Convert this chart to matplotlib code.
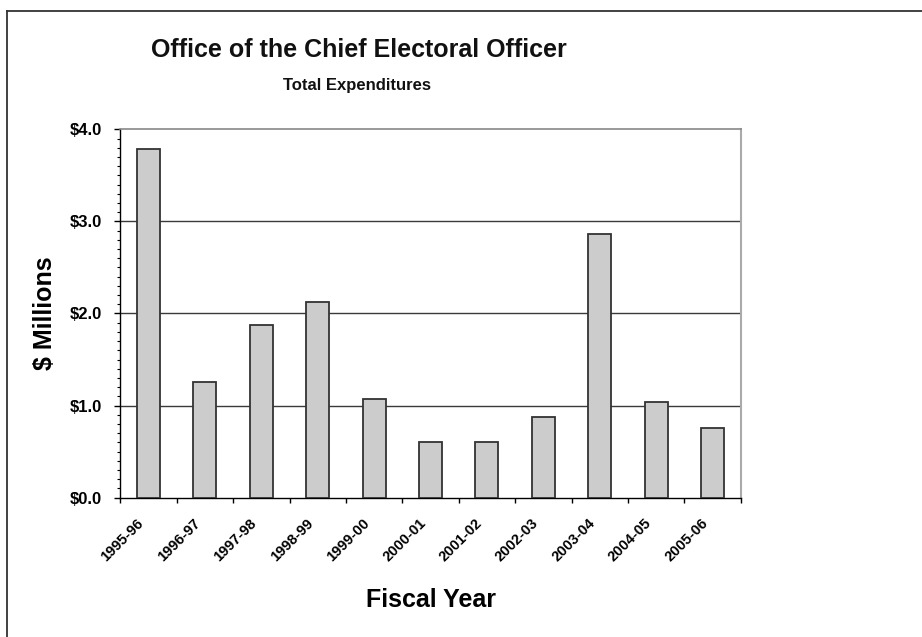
import numpy as np
import matplotlib
matplotlib.use("Agg")
import matplotlib.pyplot as plt
import matplotlib.transforms as mtransforms
from matplotlib.lines import Line2D
from matplotlib.ticker import MultipleLocator, FixedLocator

plt.rcParams['font.family'] = ['Liberation Sans', 'DejaVu Sans']
plt.rcParams['font.weight'] = 'bold'

# Data ($ millions)
fiscal_years = ['1995-96', '1996-97', '1997-98', '1998-99', '1999-00', '2000-01',
                '2001-02', '2002-03', '2003-04', '2004-05', '2005-06']
expenditures = [3.79, 1.26, 1.88, 2.13, 1.07, 0.60, 0.60, 0.88, 2.86, 1.04, 0.76]
y_ticks = [0.0, 1.0, 2.0, 3.0, 4.0]
y_tick_labels = ['$0.0', '$1.0', '$2.0', '$3.0', '$4.0']

fig = plt.figure(figsize=(9.22, 6.37), dpi=100)
ax = fig.add_axes([0.1305, 0.2187, 0.6729, 0.5783])

x = np.arange(len(fiscal_years))
ax.bar(x, expenditures, width=0.41, color='#cccccc', edgecolor='#333333',
       linewidth=1.3, zorder=3)

ax.set_xlim(-0.5, len(fiscal_years) - 0.5)
ax.set_ylim(0, 4.0)

# gridlines
for v in y_ticks[1:-1]:
    ax.axhline(v, color='#3a3a3a', linewidth=1.0, zorder=1)

# spines
ax.spines['left'].set_color('black')
ax.spines['bottom'].set_color('black')
ax.spines['left'].set_linewidth(1.0)
ax.spines['bottom'].set_linewidth(1.0)
ax.spines['top'].set_color('#888888')
ax.spines['right'].set_color('#aaaaaa')
ax.spines['top'].set_linewidth(1.2)
ax.spines['right'].set_linewidth(1.5)

# y axis
ax.set_yticks(y_ticks)
ax.set_yticklabels(y_tick_labels, fontsize=12, fontweight='bold')
ax.yaxis.set_minor_locator(MultipleLocator(0.1))
ax.tick_params(axis='y', which='major', direction='out', length=4, width=1, pad=9)
ax.tick_params(axis='y', which='minor', direction='out', length=2.2, width=0.8)

# x axis: labels at centres, ticks at category boundaries
ax.set_xticks(x)
ax.xaxis.set_minor_locator(FixedLocator(np.arange(-0.5, len(fiscal_years), 1.0)))
ax.tick_params(axis='x', which='major', length=0, pad=17)
ax.tick_params(axis='x', which='minor', direction='out', length=3.5, width=1)
ax.set_xticklabels(fiscal_years, fontsize=10.5, fontweight='bold',
                   rotation=45, ha='right', va='center', rotation_mode='anchor')
# nudge labels left so their ends sit just left of each bar centre
shift = mtransforms.ScaledTranslation(-7 / 100, 0, fig.dpi_scale_trans)
for lbl in ax.get_xticklabels():
    lbl.set_transform(lbl.get_transform() + shift)

ax.set_ylabel('$ Millions', fontsize=18, fontweight='bold')
ax.yaxis.set_label_coords(-0.102, 0.5)
ax.set_xlabel('Fiscal Year', fontsize=18, fontweight='bold')
ax.xaxis.set_label_coords(0.5, -0.245)

fig.text(0.389, 0.921, 'Office of the Chief Electoral Officer', fontsize=18,
         fontweight='bold', ha='center', va='center', color='#111111')
fig.text(0.387, 0.866, 'Total Expenditures', fontsize=12,
         fontweight='bold', ha='center', va='center', color='#111111')

# outer frame (top and left edges visible)
fig.add_artist(Line2D([7 / 922, 7 / 922], [0, 1 - 11 / 637], color='#333333',
                      linewidth=1.3, transform=fig.transFigure))
fig.add_artist(Line2D([7 / 922, 1], [1 - 11 / 637, 1 - 11 / 637], color='#333333',
                      linewidth=1.3, transform=fig.transFigure))

fig.savefig('out.png', dpi=100)
